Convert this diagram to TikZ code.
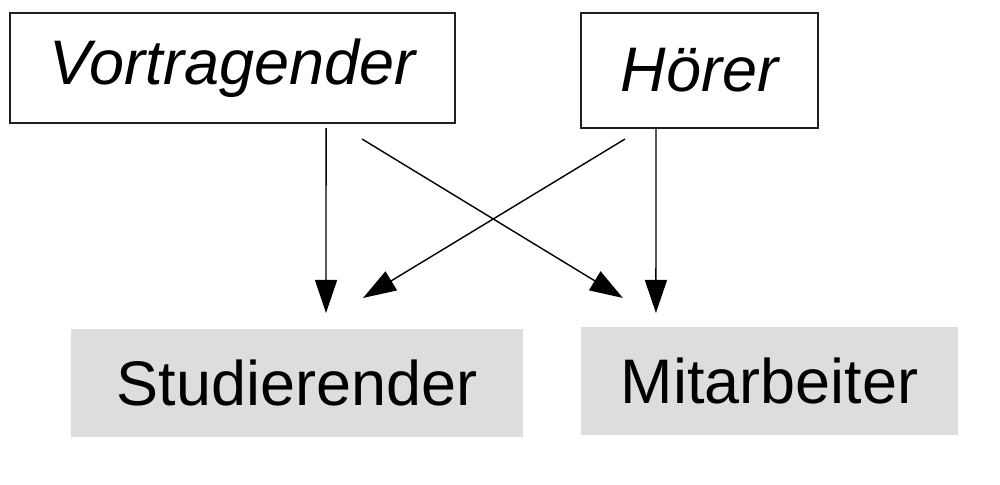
\documentclass[tikz,border=0pt]{standalone}
\usepackage{fontspec}
\setmainfont{Liberation Sans}
\usepackage{tikz}
\usetikzlibrary{arrows.meta}
\definecolor{RolleGrau}{HTML}{DDDDDD}
\definecolor{RahmenInk}{HTML}{202020}

\begin{document}
\begin{tikzpicture}[
  x=0.01cm,y=-0.01cm,
  >={Triangle[length=0.33cm,width=0.22cm]},
  every node/.style={font=\fontsize{17.9}{21}\selectfont,inner sep=0pt,outer sep=0pt},
  rolleoben/.style={draw=RahmenInk,line width=.45pt,fill=white,font=\fontsize{17.9}{21}\selectfont\itshape},
  rolleunten/.style={fill=RolleGrau},
  pfeil/.style={->,black,line width=.4pt}
]
  \useasboundingbox (0,0) rectangle (1000,484);

  \node[rolleoben,minimum width=4.45cm,minimum height=1.10cm] (vortrag) at (232.5,68) {Vortragender};
  \node[rolleoben,minimum width=2.37cm,minimum height=1.15cm] (hoerer) at (699.5,70.5) {Hörer};
  \node[rolleunten,minimum width=4.52cm,minimum height=1.08cm] (stud) at (297,383) {Studierender};
  \node[rolleunten,minimum width=3.77cm,minimum height=1.08cm] (mitarb) at (769.5,381) {Mitarbeiter};

  \draw[pfeil] ([xshift=0.935cm,yshift=-0.05cm]vortrag.south)
    -- ([xshift=0.29cm,yshift=0.16cm]stud.north);
  \draw[pfeil] ([xshift=1.295cm,yshift=-0.16cm]vortrag.south)
    -- ([xshift=-1.465cm,yshift=0.29cm]mitarb.north);
  \draw[pfeil] ([xshift=-0.745cm,yshift=-0.11cm]hoerer.south)
    -- ([xshift=0.66cm,yshift=0.31cm]stud.north);
  \draw[pfeil] ([xshift=-0.435cm]hoerer.south)
    -- ([xshift=-1.135cm,yshift=0.14cm]mitarb.north);
\end{tikzpicture}
\end{document}
